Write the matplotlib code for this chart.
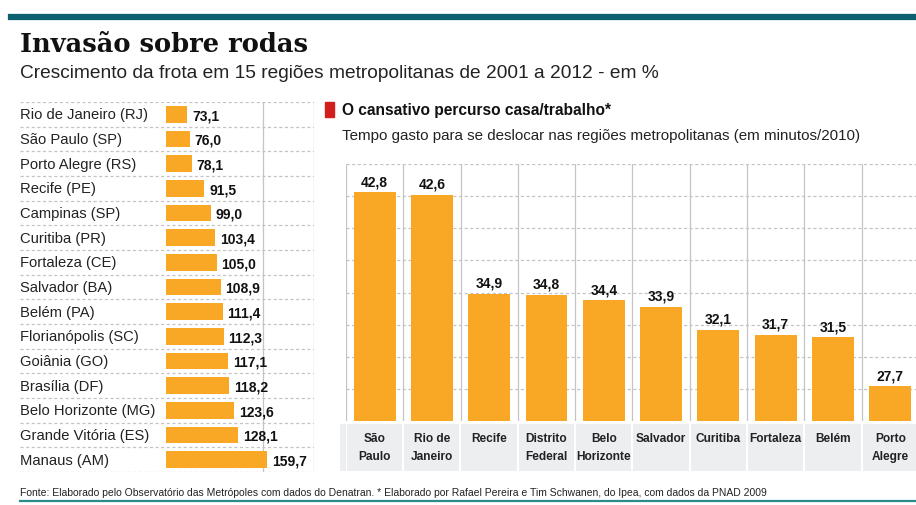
import matplotlib.pyplot as plt
from matplotlib.patches import Rectangle
from matplotlib.lines import Line2D

# ---------------- data
regioes = ["Rio de Janeiro (RJ)", "São Paulo (SP)", "Porto Alegre (RS)", "Recife (PE)",
           "Campinas (SP)", "Curitiba (PR)", "Fortaleza (CE)", "Salvador (BA)",
           "Belém (PA)", "Florianópolis (SC)", "Goiânia (GO)", "Brasília (DF)",
           "Belo Horizonte (MG)", "Grande Vitória (ES)", "Manaus (AM)"]
crescimento = [73.1, 76.0, 78.1, 91.5, 99.0, 103.4, 105.0, 108.9,
               111.4, 112.3, 117.1, 118.2, 123.6, 128.1, 159.7]

cidades = ["São\nPaulo", "Rio de\nJaneiro", "Recife", "Distrito\nFederal", "Belo\nHorizonte",
           "Salvador", "Curitiba", "Fortaleza", "Belém", "Porto\nAlegre"]
minutos = [42.8, 42.6, 34.9, 34.8, 34.4, 33.9, 32.1, 31.7, 31.5, 27.7]

BASE_ESQ = 50     # bars on the left start here
BASE_DIR = 25     # bars on the right start here

laranja = "#f9a825"
grade = "#c4c4c4"
teal = "#0b5f6e"
W, H = 916, 506

def fmt(v):
    return f"{v:.1f}".replace(".", ",")

def px(x0, y0, x1, y1):
    # pixel box (top-left origin) -> figure fraction rect
    return [x0 / W, 1 - y1 / H, (x1 - x0) / W, (y1 - y0) / H]

plt.rcParams['font.family'] = ['Liberation Sans', 'DejaVu Sans']

fig = plt.figure(figsize=(W / 100, H / 100), dpi=100)
fig.patch.set_facecolor("white")

# ---------------- header
fig.add_artist(Line2D([11 / W, 1], [1 - 18 / H] * 2, color=teal, lw=4.5))
fig.text(20 / W, 1 - 45 / H, "Invasão sobre rodas", fontsize=18.5, fontweight="bold",
         family="DejaVu Serif", va="center", ha="left", color="#111111")
fig.text(20 / W, 1 - 73 / H,
         "Crescimento da frota em 15 regiões metropolitanas de 2001 a 2012 - em %",
         fontsize=13.8, va="center", ha="left", color="#222222")

# ---------------- left panel
ax1 = fig.add_axes(px(20, 103, 314, 473))
y = list(range(len(regioes)))
larg = [v - BASE_ESQ for v in crescimento]
ax1.barh(y, larg, left=BASE_ESQ, height=0.68, color=laranja, zorder=2)
ax1.set_ylim(len(regioes) - 0.5, -0.5)
ax1.set_xlim(-108, 210)
for i in range(len(regioes) + 1):
    ax1.axhline(i - 0.5, color=grade, lw=0.9, ls=(0, (2.5, 2)), zorder=1)
ax1.axvline(155, color=grade, lw=0.9, zorder=1)
ax1.axvline(209.5, color=grade, lw=0.9, zorder=1)
for i, (nome, v) in enumerate(zip(regioes, crescimento)):
    ax1.text(-108, i, nome, va="center", ha="left", fontsize=10.6, color="#222222")
    ax1.text(v + 5, i + 0.04, fmt(v), va="center", ha="left", fontsize=10,
             fontweight="bold", color="#111111")
ax1.axis("off")

# ---------------- right panel header
fig.add_artist(Rectangle((325 / W, 1 - 118 / H), 9 / W, 15 / H, color="#d21f1b",
                         transform=fig.transFigure))
fig.text(342 / W, 1 - 111 / H, "O cansativo percurso casa/trabalho*", fontsize=11.2,
         fontweight="bold", va="center", ha="left", color="#111111")
fig.text(342 / W, 1 - 136 / H,
         "Tempo gasto para se deslocar nas regiões metropolitanas (em minutos/2010)",
         fontsize=10.9, va="center", ha="left", color="#222222")

# ---------------- right panel chart
ax2 = fig.add_axes(px(346, 165, 916, 422))
x = list(range(len(cidades)))
alt = [v - BASE_DIR for v in minutos]
ax2.bar(x, alt, bottom=BASE_DIR, width=0.73, color=laranja, zorder=2)
ax2.set_ylim(BASE_DIR, 45)
ax2.set_xlim(-0.5, 9.45)
for g in [27.5, 30, 32.5, 35, 37.5, 40, 42.5, 45]:
    ax2.axhline(g, color=grade, lw=0.9, ls=(0, (2.5, 2)), zorder=1)
for k in range(len(cidades)):
    ax2.axvline(k - 0.5, color=grade, lw=0.9, zorder=1)
for xi, v in zip(x, minutos):
    ax2.annotate(fmt(v), (xi, v), xytext=(0, 3), textcoords="offset points",
                 ha="center", va="bottom", fontsize=10, fontweight="bold", color="#111111")
ax2.axis("off")

# category band below the bars
ax3 = fig.add_axes(px(340, 425, 916, 472))
ax3.bar(x, [1] * len(x), width=0.965, color="#eceef0")
ax3.bar([-0.55], [1], width=0.1, color="#eceef0")
ax3.set_xlim(-0.6, 9.45)
ax3.set_ylim(0, 1)
for xi, nome in zip(x, cidades):
    ax3.text(xi, 0.82, nome, ha="center", va="top", fontsize=8.6, fontweight="bold",
             color="#222222", linespacing=1.65)
ax3.axis("off")

# ---------------- footer
fig.text(20 / W, 1 - 493 / H,
         "Fonte: Elaborado pelo Observatório das Metrópoles com dados do Denatran. "
         "* Elaborado por Rafael Pereira e Tim Schwanen, do Ipea, com dados da PNAD 2009",
         fontsize=7.5, va="center", ha="left", color="#222222")
fig.add_artist(Line2D([20 / W, 1], [1 - 502 / H] * 2, color="#2a8c8c", lw=1.6))

fig.savefig("out.png", dpi=100)
